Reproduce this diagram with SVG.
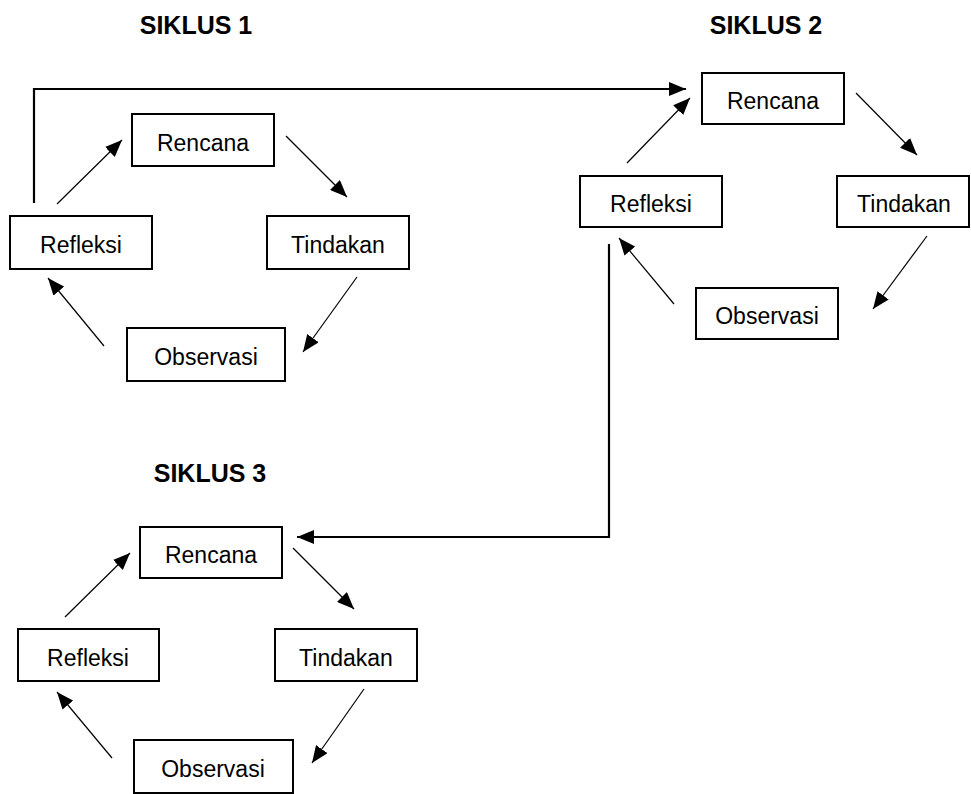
<svg xmlns="http://www.w3.org/2000/svg" width="971" height="794" viewBox="0 0 971 794">
<style>
.box{fill:#fff;stroke:#000;stroke-width:2}
.lbl{font-family:"Liberation Sans",Arial,sans-serif;font-size:23px;fill:#000;text-anchor:middle}
.ttl{font-family:"Liberation Sans",Arial,sans-serif;font-size:25px;font-weight:bold;fill:#000;text-anchor:middle}
.thin{fill:none;stroke:#000;stroke-width:1.2;marker-end:url(#ah)}
.thick{fill:none;stroke:#000;stroke-width:2.2}
</style>
<defs>
<marker id="ah" markerUnits="userSpaceOnUse" markerWidth="18" markerHeight="14" refX="17" refY="7" orient="auto">
<path d="M0,0 L17,7 L0,14 z" fill="#000"/>
</marker>
</defs>
<rect width="971" height="794" fill="#fff"/>
<text class="ttl" x="196" y="34">SIKLUS 1</text>
<text class="ttl" x="766" y="34">SIKLUS 2</text>
<text class="ttl" x="210" y="482">SIKLUS 3</text>

<g id="c1-rencana"><rect class="box" x="132" y="114" width="142" height="52"/><text class="lbl" x="203" y="151">Rencana</text></g>
<g id="c1-refleksi"><rect class="box" x="10" y="216" width="142" height="53"/><text class="lbl" x="81" y="253">Refleksi</text></g>
<g id="c1-tindakan"><rect class="box" x="267" y="216" width="142" height="53"/><text class="lbl" x="338" y="253">Tindakan</text></g>
<g id="c1-observasi"><rect class="box" x="127" y="328" width="158" height="53"/><text class="lbl" x="206" y="365">Observasi</text></g>

<g id="c2-rencana"><rect class="box" x="702" y="73" width="142" height="51"/><text class="lbl" x="773" y="109">Rencana</text></g>
<g id="c2-refleksi"><rect class="box" x="580" y="176" width="142" height="51"/><text class="lbl" x="651" y="212">Refleksi</text></g>
<g id="c2-tindakan"><rect class="box" x="837" y="176" width="132" height="51"/><text class="lbl" x="904" y="212">Tindakan</text></g>
<g id="c2-observasi"><rect class="box" x="696" y="288" width="142" height="51"/><text class="lbl" x="767" y="324">Observasi</text></g>

<g id="c3-rencana"><rect class="box" x="140" y="527" width="142" height="51"/><text class="lbl" x="211" y="563">Rencana</text></g>
<g id="c3-refleksi"><rect class="box" x="18" y="629" width="141" height="52"/><text class="lbl" x="88" y="666">Refleksi</text></g>
<g id="c3-tindakan"><rect class="box" x="275" y="629" width="142" height="52"/><text class="lbl" x="346" y="666">Tindakan</text></g>
<g id="c3-observasi"><rect class="box" x="134" y="740" width="159" height="53"/><text class="lbl" x="213" y="777">Observasi</text></g>

<g id="connectors">
<line class="thin" x1="57" y1="204" x2="122" y2="140"/>
<line class="thin" x1="286" y1="136" x2="347" y2="197"/>
<line class="thin" x1="357" y1="277" x2="303" y2="352"/>
<line class="thin" x1="104" y1="346" x2="48" y2="278"/>

<line class="thin" x1="627" y1="163" x2="690" y2="98"/>
<line class="thin" x1="856" y1="93" x2="917" y2="155"/>
<line class="thin" x1="927" y1="236" x2="873" y2="309"/>
<line class="thin" x1="674" y1="304" x2="619" y2="238"/>

<line class="thin" x1="65" y1="617" x2="130" y2="553"/>
<line class="thin" x1="293" y1="548" x2="354" y2="609"/>
<line class="thin" x1="364" y1="689" x2="312" y2="763"/>
<line class="thin" x1="112" y1="758" x2="57" y2="692"/>

<polyline class="thick" points="34,203 34,89 686,89" marker-end="url(#ah)"/>
<polyline class="thick" points="609,244 609,537 297,537" marker-end="url(#ah)"/>
</g>
</svg>
